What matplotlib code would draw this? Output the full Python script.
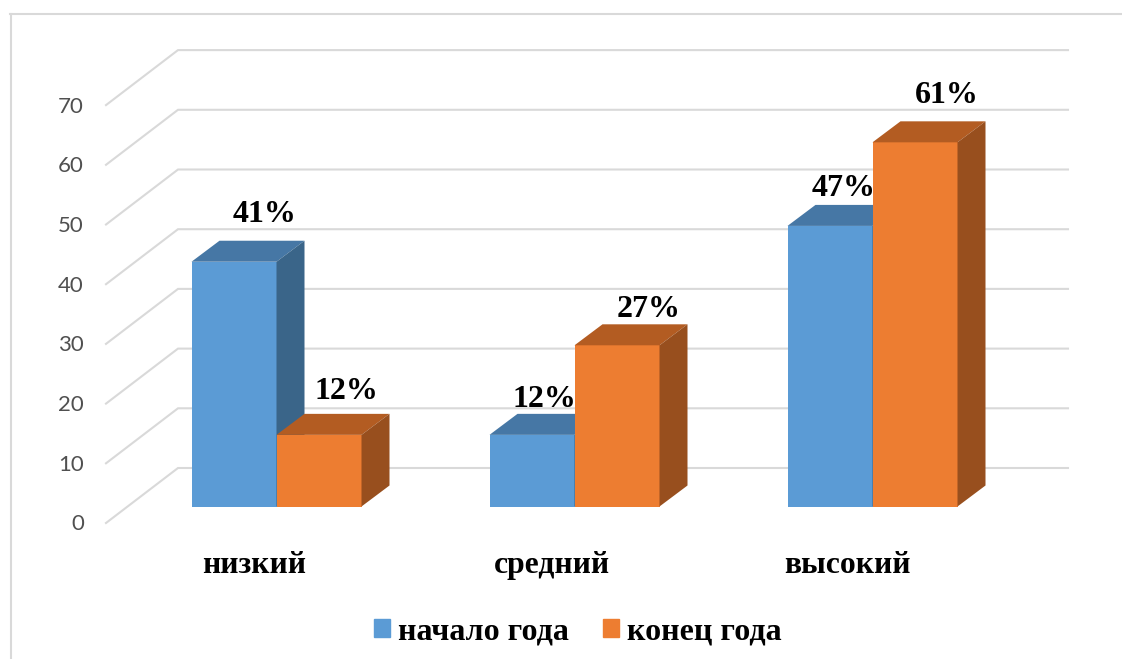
import matplotlib
matplotlib.use('Agg')
import matplotlib.pyplot as plt
from matplotlib.lines import Line2D
from matplotlib.patches import Patch

# данные
categories = ['низкий', 'средний', 'высокий']
series_names = ['начало года', 'конец года']
start_values = [41, 12, 47]
end_values = [12, 27, 61]
y_ticks = [0, 10, 20, 30, 40, 50, 60, 70]

W, H = 1122, 659
GROUP_PX = 298      # шаг категорий, пикселей
UNIT_PX = 5.97      # пикселей на единицу оси y
X0_PX, Y0_PX = 276.5, 506.5

bar_w = 85 / GROUP_PX
depth_x = 28 / GROUP_PX
depth_y = 21 / UNIT_PX

# пол: передний и задний углы
floor_x = (106 - X0_PX) / GROUP_PX
floor_y = (Y0_PX - 523) / UNIT_PX
back_x = (178 - X0_PX) / GROUP_PX
back_y = (Y0_PX - 468) / UNIT_PX
back_end = (1068 - X0_PX) / GROUP_PX

colors = {
    'start': ('#5B9BD5', '#4677A5', '#3A6589'),
    'end': ('#ED7D31', '#B35C22', '#984F1E'),
}
grid_color = '#D9D9D9'

fig = plt.figure(figsize=(W / 100, H / 100), dpi=100)
ax = fig.add_axes([0, 0, 1, 1])
ax.set_xlim((0 - X0_PX) / GROUP_PX, (W - X0_PX) / GROUP_PX)
ax.set_ylim((Y0_PX - H) / UNIT_PX, Y0_PX / UNIT_PX)
ax.axis('off')

# рамка
fig.add_artist(Line2D([10.5 / W, 10.5 / W], [0, 1 - 14 / H], color=grid_color, lw=1.5))
fig.add_artist(Line2D([10 / W, 1], [1 - 14 / H, 1 - 14 / H], color=grid_color, lw=1.5))

# сетка
for v in y_ticks:
    ax.plot([floor_x, back_x, back_end], [floor_y + v, back_y + v, back_y + v],
            color=grid_color, lw=1.5, zorder=1, solid_joinstyle='miter')
    ax.text(floor_x - 22 / GROUP_PX, floor_y + v - 1.5 / UNIT_PX, str(v), ha='right', va='center',
            family='Lato', fontsize=16, color='#505050')


def draw_bar(x, value, cols, z):
    front, top, side = cols
    ax.bar(x, value, width=bar_w, align='edge', color=front, zorder=z)
    ax.fill([x, x + bar_w, x + bar_w + depth_x, x + depth_x],
            [value, value, value + depth_y, value + depth_y], color=top, lw=0, zorder=z)
    ax.fill([x + bar_w, x + bar_w + depth_x, x + bar_w + depth_x, x + bar_w],
            [0, depth_y, value + depth_y, value], color=side, lw=0, zorder=z)


# столбцы
for i in range(len(categories)):
    draw_bar(i - bar_w, start_values[i], colors['start'], 2 + i * 2)
    draw_bar(i, end_values[i], colors['end'], 3 + i * 2)

# подписи значений (сдвиг в пикселях от верха столбца, двигали вручную)
start_offsets = [(31, 47), (12, 35), (14, 37)]
end_offsets = [(27, 43), (32, 36), (32, 47)]
label_font = dict(family='Liberation Serif', weight='bold', fontsize=23, color='black',
                  ha='center', va='center', zorder=20, textcoords='offset pixels')
for i in range(len(categories)):
    ax.annotate(f'{start_values[i]}%', (i - bar_w / 2, start_values[i]),
                xytext=start_offsets[i], **label_font)
    ax.annotate(f'{end_values[i]}%', (i + bar_w / 2, end_values[i]),
                xytext=end_offsets[i], **label_font)

# подписи категорий
category_shift = [-22, -23, -25]
for i, name in enumerate(categories):
    ax.annotate(name, (i, 0), xytext=(category_shift[i], -59), family='Liberation Serif', weight='bold',
                fontsize=22.8, ha='center', va='center', textcoords='offset pixels')

# легенда
handles = [Patch(color=colors['start'][0]), Patch(color=colors['end'][0])]
fig.legend(handles, series_names, loc='center', bbox_to_anchor=(578 / W, 1 - 632 / H), ncol=2,
           frameon=False, prop={'family': 'Liberation Serif', 'weight': 'bold', 'size': 23},
           handlelength=0.5, handleheight=0.5, handletextpad=0.25, columnspacing=1.06)

fig.savefig('out.png', dpi=100)
